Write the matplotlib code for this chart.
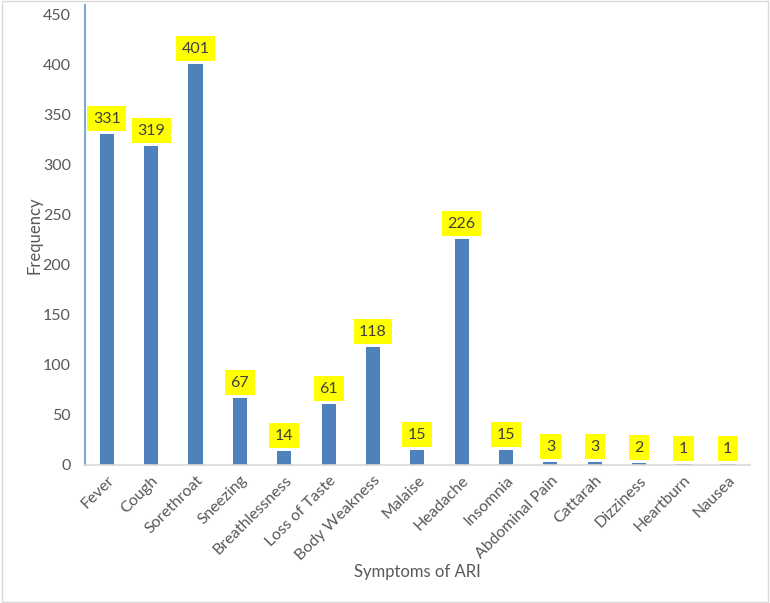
import matplotlib
matplotlib.use("Agg")
import matplotlib.pyplot as plt
from matplotlib.patches import Rectangle

categories = ["Fever", "Cough", "Sorethroat", "Sneezing", "Breathlessness", "Loss of Taste",
              "Body Weakness", "Malaise", "Headache", "Insomnia", "Abdominal Pain", "Cattarah",
              "Dizziness", "Heartburn", "Nausea"]
values = [331, 319, 401, 67, 14, 61, 118, 15, 226, 15, 3, 3, 2, 1, 1]
yticks = [0, 50, 100, 150, 200, 250, 300, 350, 400, 450]

plt.rcParams['font.family'] = ['Lato', 'DejaVu Sans']

fig = plt.figure(figsize=(7.7, 6.03), dpi=100)
ax = fig.add_axes([0.110, 0.229, 0.864, 0.763])

x = range(len(categories))
ax.bar(x, values, width=0.32, color="#4F81BD", zorder=2)
for xi, v in zip(x, values):
    ax.annotate(str(v), (xi, v), xytext=(0, 6), textcoords="offset points",
                ha="center", va="bottom", fontsize=11.5, color="#404040",
                bbox=dict(boxstyle="square,pad=0.35", fc="#FFFF00", ec="none"))

ax.set_xlim(-0.5, len(categories) - 0.5)
ax.set_ylim(0, 460)
ax.set_yticks(yticks)
ax.set_xticks(list(x))
ax.set_xticklabels(categories, rotation=45, ha="right", rotation_mode="anchor",
                   fontsize=11.5, color="#595959")
ax.tick_params(axis="y", labelsize=11.5, labelcolor="#595959", length=0, pad=10)
ax.tick_params(axis="x", length=0, pad=6)

for s in ["top", "right"]:
    ax.spines[s].set_visible(False)
ax.spines["left"].set_color("#7FA7D7")
ax.spines["left"].set_linewidth(1.5)
ax.spines["bottom"].set_color("#D9D9D9")
ax.spines["bottom"].set_linewidth(1.2)

ax.set_ylabel("Frequency", fontsize=12, color="#595959")
ax.yaxis.set_label_coords(-0.064, 0.5)
ax.set_xlabel("Symptoms of ARI", fontsize=12, color="#595959", labelpad=1)

fig.patches.append(Rectangle((0.002, 0.002), 0.996, 0.996, transform=fig.transFigure,
                             fill=False, ec="#D9D9D9", lw=1))

fig.savefig("out.png", dpi=100)
